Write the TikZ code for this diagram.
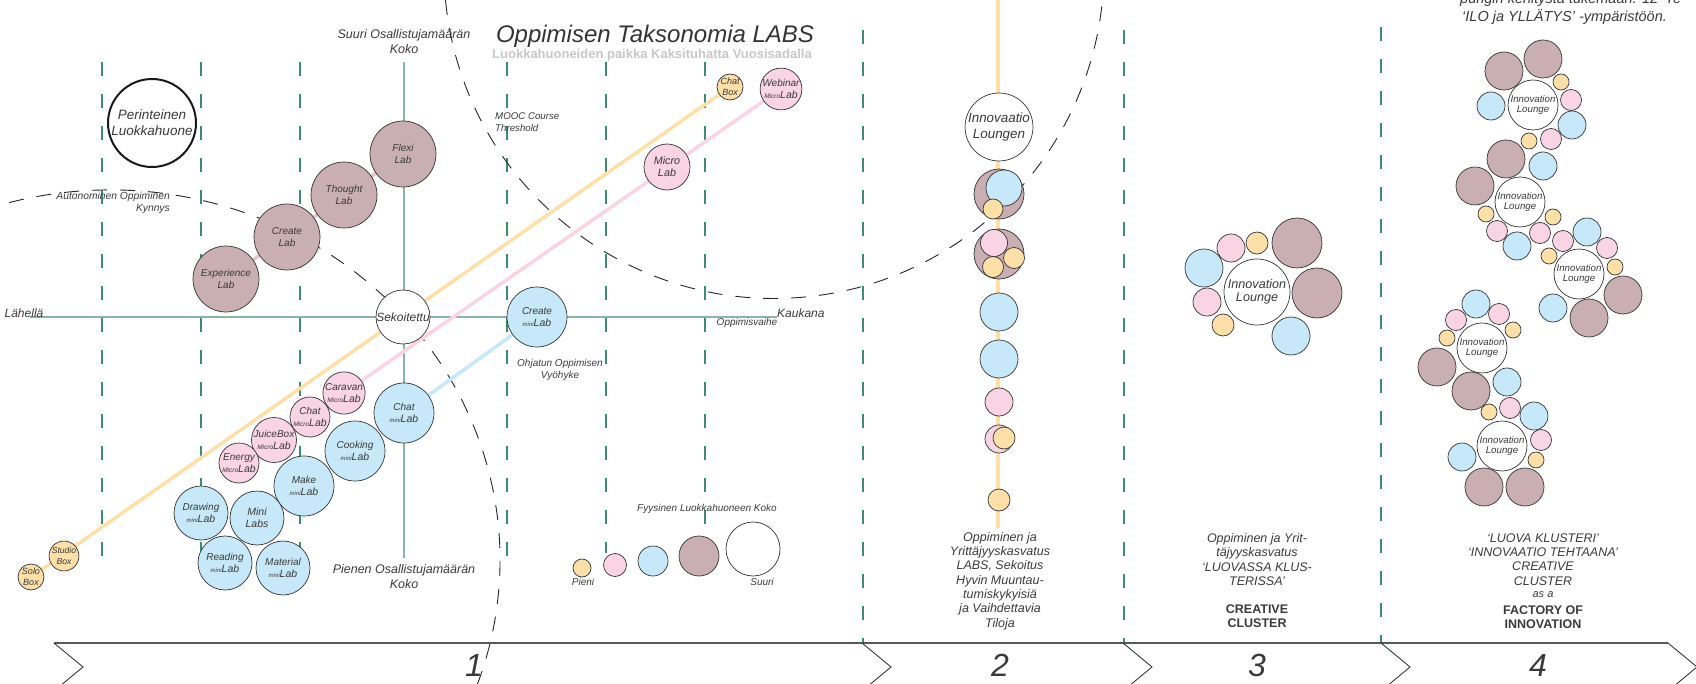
\documentclass[tikz,border=0pt]{standalone}
\usepackage{fontspec}
\setmainfont{Liberation Sans}
\newcommand\myfs[2]{\fontsize{#1}{#2}\selectfont}
\newcommand\minip{{\myfs{6}{7}\selectfont mini}}
\newcommand\microp{{\myfs{6.5}{7}\selectfont Micro}}
\newcommand\labw{{\myfs{10.5}{12}\selectfont Lab}}
\definecolor{cmauve}{HTML}{C9AEB2}
\definecolor{cblue}{HTML}{C6E8F8}
\definecolor{cpink}{HTML}{F8D4E4}
\definecolor{corange}{HTML}{FDE0A8}
\definecolor{gsolid}{HTML}{86B8A4}
\definecolor{gdash}{HTML}{3E8C6C}
\definecolor{txt}{HTML}{3A3A3A}
\definecolor{lmauve}{HTML}{E8C4D0}
\pgfdeclarelayer{bg}
\pgfsetlayers{bg,main}
\begin{document}
\begin{tikzpicture}[x=1pt,y=-1pt,
  bub/.style={circle, draw=black!80, line width=0.7pt, inner sep=0pt, align=center, text=txt, font=\itshape\myfs{10}{12}},
  mv/.style={bub, fill=cmauve},
  bl/.style={bub, fill=cblue},
  pk/.style={bub, fill=cpink},
  og/.style={bub, fill=corange},
  wh/.style={bub, fill=white},
  lbl/.style={text=txt, inner sep=0pt, align=center},
  gdashed/.style={draw=gdash, line width=1.3pt, dash pattern=on 14pt off 18pt},
  gsol/.style={draw=gsolid, line width=1.5pt},
  kdash/.style={draw=black!85, line width=0.9pt, dash pattern=on 15pt off 13pt},
  oline/.style={draw=corange, line width=3.5pt},
  pline/.style={draw=cpink, line width=3.5pt},
  bline/.style={draw=cblue, line width=3.5pt},
  mline/.style={draw=lmauve, line width=3.5pt},
  bandline/.style={draw=black!65, line width=1.6pt},
  chev/.style={draw=black!85, line width=0.8pt},
  c4m/.style={mv, minimum size=38pt},
  c4b/.style={bl, minimum size=28pt},
  c4p/.style={pk, minimum size=21pt},
  c4o/.style={og, minimum size=16pt},
  c4i/.style={wh, minimum size=50pt, font=\itshape\myfs{9.7}{10.7}}
]
\useasboundingbox (0,0) rectangle (1696,684);

% ---------- background grid and curves ----------
\begin{pgfonlayer}{bg}
\foreach \x in {102,201,300,507}{\draw[gdashed] (\x,62) -- (\x,558);}
\draw[gdashed] (606,62) -- (606,553);
\draw[gdashed] (705,62) -- (705,528);
\draw[gdashed] (863,30) -- (863,643);
\draw[gdashed] (1124,30) -- (1124,643);
\draw[gdashed] (1381,27) -- (1381,643);
\draw[gsol] (404,62) -- (404,558);
\draw[gsol] (30,317) -- (777,317);
% thresholds
\draw[kdash] (9.1,202.6) arc[start angle=105, end angle=-22, x radius=390pt, y radius=370pt];
\draw[kdash] (445.5,0.1) arc[start angle=185.5, end angle=357, radius=330pt];
% column 2 spine
\coordinate (sptop) at (998,-5);
\coordinate (spbot) at (998,528);
\draw[oline] (sptop) -- (spbot);
\end{pgfonlayer}

% ---------- band ----------
\draw[bandline] (54,643) -- (1668,643);
\foreach \x in {54,862,1123,1381,1668}{\draw[chev] (\x,643) -- (\x+29,667) -- (\x,691);}
\node[lbl, font=\itshape\myfs{32}{36}] (n1) at (474,665) {1};
\node[lbl, font=\itshape\myfs{32}{36}] (n2) at (1000,665) {2};
\node[lbl, font=\itshape\myfs{32}{36}] (n3) at (1257,665) {3};
\node[lbl, font=\itshape\myfs{32}{36}] (n4) at (1538,665) {4};

% ---------- titles ----------
\node[lbl, text=black!80, font=\itshape\myfs{24}{28}] (title) at (655,36) {Oppimisen Taksonomia LABS};
\node[lbl, text=black!22, font=\bfseries\myfs{13}{15}] (subtitle) at (652,55) {Luokkahuoneiden paikka Kaksituhatta Vuosisadalla};
\node[lbl, anchor=base west, font=\itshape\myfs{14.5}{18}] (tr1) at (1460,3.5) {pungin kehitystä tukemaan. 12 ‘Te};
\node[lbl, anchor=base west, font=\itshape\myfs{14.5}{18}] (tr2) at (1462,21.7) {‘ILO ja YLLÄTYS’ -ympäristöön.};

% ---------- axis labels ----------
\node[lbl, font=\itshape\myfs{12.5}{15}] (suuri) at (404,42) {Suuri Osallistujamäärän\\Koko};
\node[lbl, font=\itshape\myfs{12.5}{15}] (pienen) at (404,577) {Pienen Osallistujamäärän\\Koko};
\node[lbl, anchor=east, align=right, font=\itshape\myfs{10.3}{12}] (auton) at (170,203) {Autonominen Oppiminen\\Kynnys};
\node[lbl, anchor=west, align=left, font=\itshape\myfs{9.7}{12}] (mooc) at (495,122) {MOOC Course\\Threshold};
\node[lbl, font=\itshape\myfs{12}{14}] (lahella) at (24,313) {Lähellä};
\node[lbl, anchor=west, font=\itshape\myfs{12}{14}] (kaukana) at (777,313) {Kaukana};
\node[lbl, font=\itshape\myfs{10}{12}] (oppvaihe) at (747,323) {Oppimisvaihe};
\node[lbl, font=\itshape\myfs{10}{12.5}] (ohjatun) at (560,370) {Ohjatun Oppimisen\\Vyöhyke};
\node[lbl, font=\itshape\myfs{10}{12}] (fyys) at (707,509) {Fyysinen Luokkahuoneen Koko};
\node[lbl, font=\itshape\myfs{10}{12}] (pieni) at (583,582) {Pieni};
\node[lbl, font=\itshape\myfs{10}{12}] (suurilg) at (762,582) {Suuri};

% ---------- column 1 circles ----------
\node[wh, minimum size=88pt, line width=2pt, draw=black!90, font=\itshape\myfs{13.5}{16}] (perint) at (152,123) {Perinteinen\\Luokkahuone};
\node[mv, minimum size=66pt] (flexi) at (403,154) {Flexi\\Lab};
\node[mv, minimum size=66pt] (thought) at (344,195) {Thought\\Lab};
\node[mv, minimum size=66pt] (createlab) at (287,237) {Create\\Lab};
\node[mv, minimum size=66pt] (exper) at (226,279) {Experience\\Lab};
\node[wh, minimum size=54pt, font=\itshape\myfs{12}{14}] (sekoit) at (403,317) {Sekoitettu};
\node[bl, minimum size=60pt] (createmini) at (537,317) {Create\\\minip\labw};
\node[pk, minimum size=46pt, font=\itshape\myfs{10.8}{12}] (microlab) at (667,167) {Micro\\Lab};
\node[og, minimum size=26pt, font=\itshape\myfs{9}{11}] (chatbox) at (730,87) {Chat\\Box};
\node[pk, minimum size=40pt] (webinar) at (781,89) {Webinar\\\microp\labw};
\node[og, minimum size=26pt, font=\itshape\myfs{9}{11}] (solo) at (31,577) {Solo\\Box};
\node[og, minimum size=26pt, font=\itshape\myfs{8.6}{11}] (studio) at (64,556) {Studio\\Box};
\node[pk, minimum size=40pt] (caravan) at (344,393) {Caravan\\\microp\labw};
\node[pk, minimum size=40pt] (chatmicro) at (310,417) {Chat\\\microp\labw};
\node[pk, minimum size=40pt] (juice) at (274,440) {JuiceBox\\\microp\labw};
\node[pk, minimum size=40pt] (energy) at (239,463) {Energy\\\microp\labw};
\node[bl, minimum size=60pt] (chatmini) at (404,413) {Chat\\\minip\labw};
\node[bl, minimum size=60pt] (cooking) at (355,451) {Cooking\\\minip\labw};
\node[bl, minimum size=60pt] (make) at (304,486) {Make\\\minip\labw};
\node[bl, minimum size=54pt] (drawing) at (201,513) {Drawing\\\minip\labw};
\node[bl, minimum size=54pt, font=\itshape\myfs{10.5}{12}] (minilabs) at (257,518) {Mini\\Labs};
\node[bl, minimum size=54pt] (reading) at (225,563) {Reading\\\minip\labw};
\node[bl, minimum size=54pt] (material) at (283,568) {Material\\\minip\labw};

% legend
\node[og, minimum size=18pt] (lg1) at (582,568) {};
\node[pk, minimum size=23pt] (lg2) at (615,565) {};
\node[bl, minimum size=30pt] (lg3) at (653,561) {};
\node[mv, minimum size=40pt] (lg4) at (699,556) {};
\node[wh, minimum size=54pt] (lg5) at (753,549) {};

% connectors
\begin{pgfonlayer}{bg}
\draw[oline] (solo.center) -- (chatbox.center);
\draw[pline] (caravan.center) -- (webinar.center);
\draw[bline] (chatmini.center) -- (createmini.center);
\draw[mline] (exper.center) -- (flexi.center);
\end{pgfonlayer}

% ---------- column 2 ----------
\node[wh, minimum size=66pt, font=\itshape\myfs{13.4}{15.7}] (innovL) at (999,127) {Innovaatio\\Loungen};
\node[mv, minimum size=50pt] (g1m) at (999,194) {};
\node[bl, minimum size=36pt] (g1b) at (1004,188) {};
\node[og, minimum size=20pt] (g1o) at (993,209) {};
\node[mv, minimum size=50pt] (g2m) at (999,254) {};
\node[pk, minimum size=27pt] (g2p) at (994,243) {};
\node[og, minimum size=21pt] (g2o1) at (1014,258) {};
\node[og, minimum size=21pt] (g2o2) at (993,267) {};
\node[bl, minimum size=38pt] (c2b1) at (999,312) {};
\node[bl, minimum size=38pt] (c2b2) at (999,359) {};
\node[pk, minimum size=28pt] (c2p1) at (999,402) {};
\node[pk, minimum size=28pt] (c2p2) at (999,439) {};
\node[og, minimum size=22pt] (c2o1) at (1004,438) {};
\node[og, minimum size=22pt] (c2o2) at (999,500) {};
\node[lbl, font=\itshape\myfs{12.5}{14.3}] (c2txt) at (1000,581) {Oppiminen ja\\Yrittäjyyskasvatus\\LABS, Sekoitus\\Hyvin Muuntau-\\tumiskykyisiä\\ja Vaihdettavia\\Tiloja};

% ---------- column 3 ----------
\node[wh, minimum size=66pt, font=\itshape\myfs{12.6}{13.3}] (il3) at (1257,292) {Innovation\\Lounge};
\node[mv, minimum size=50pt] (c3m1) at (1297,243) {};
\node[mv, minimum size=50pt] (c3m2) at (1317,293) {};
\node[bl, minimum size=38pt] (c3b1) at (1291,336) {};
\node[bl, minimum size=38pt] (c3b2) at (1204,268) {};
\node[pk, minimum size=28pt] (c3p1) at (1231,248) {};
\node[og, minimum size=22pt] (c3o1) at (1257,243) {};
\node[pk, minimum size=28pt] (c3p2) at (1207,302) {};
\node[og, minimum size=22pt] (c3o2) at (1223,325) {};
\node[lbl, font=\itshape\myfs{12.5}{14.3}] (c3txt) at (1257,559.5) {Oppiminen ja Yrit-\\täjyyskasvatus\\‘LUOVASSA KLUS-\\TERISSA’};
\node[lbl, font=\bfseries\myfs{12.5}{14.3}] (c3bold) at (1257,616.5) {CREATIVE\\CLUSTER};

% ---------- column 4 ----------
% cluster A
\node[c4i] (ilA) at (1533,105) {Innovation\\Lounge};
\node[c4m] (aM1) at (1504,71) {};
\node[c4m] (aM2) at (1543,59) {};
\node[c4o] (aO1) at (1561,82) {};
\node[c4p] (aP1) at (1571,100) {};
\node[c4b] (aB1) at (1572,125) {};
\node[c4b] (aB2) at (1491,106) {};
\node[c4p] (aP2) at (1551,139) {};
\node[c4o] (aO2) at (1529,141) {};
% cluster B
\node[c4i] (ilB) at (1520,202) {Innovation\\Lounge};
\node[c4m] (bM1) at (1506,159) {};
\node[c4b] (bB1) at (1543,166) {};
\node[c4m] (bM2) at (1475,186) {};
\node[c4o] (bO1) at (1486,214) {};
\node[c4o] (bO2) at (1553,217) {};
\node[c4p] (bP1) at (1497,231) {};
\node[c4b] (bB2) at (1517,246) {};
\node[c4p] (bP2) at (1540,233) {};
% cluster C
\node[c4i] (ilC) at (1579,274) {Innovation\\Lounge};
\node[c4p] (cP1) at (1563,241) {};
\node[c4b] (cB1) at (1587,232) {};
\node[c4p] (cP2) at (1607,248) {};
\node[c4o] (cO1) at (1549,256) {};
\node[c4o] (cO2) at (1615,267) {};
\node[c4m] (cM1) at (1623,295) {};
\node[c4b] (cB2) at (1553,308) {};
\node[c4m] (cM2) at (1589,318) {};
% cluster D
\node[c4i] (ilD) at (1482,348) {Innovation\\Lounge};
\node[c4b] (dB1) at (1476,304) {};
\node[c4p] (dP1) at (1456,320) {};
\node[c4p] (dP2) at (1499,314) {};
\node[c4o] (dO1) at (1513,330) {};
\node[c4o] (dO2) at (1447,338) {};
\node[c4m] (dM1) at (1437,367) {};
\node[c4m] (dM2) at (1471,391) {};
\node[c4b] (dB2) at (1507,382) {};
% cluster E
\node[c4i] (ilE) at (1502,446) {Innovation\\Lounge};
\node[c4o] (eO1) at (1489,412) {};
\node[c4p] (eP1) at (1510,408) {};
\node[c4b] (eB1) at (1534,416) {};
\node[c4p] (eP2) at (1541,440) {};
\node[c4o] (eO2) at (1536,460) {};
\node[c4b] (eB2) at (1462,457) {};
\node[c4m] (eM1) at (1484,487) {};
\node[c4m] (eM2) at (1525,487) {};

\node[lbl, font=\itshape\myfs{12.5}{14.3}] (c4txt) at (1543,559.5) {‘LUOVA KLUSTERI’\\‘INNOVAATIO TEHTAANA’\\CREATIVE\\CLUSTER};
\node[lbl, font=\itshape\myfs{11}{13}] (c4asa) at (1543,595) {as a};
\node[lbl, font=\bfseries\myfs{12.5}{14.3}] (c4bold) at (1543,617) {FACTORY OF\\INNOVATION};
\end{tikzpicture}
\end{document}
